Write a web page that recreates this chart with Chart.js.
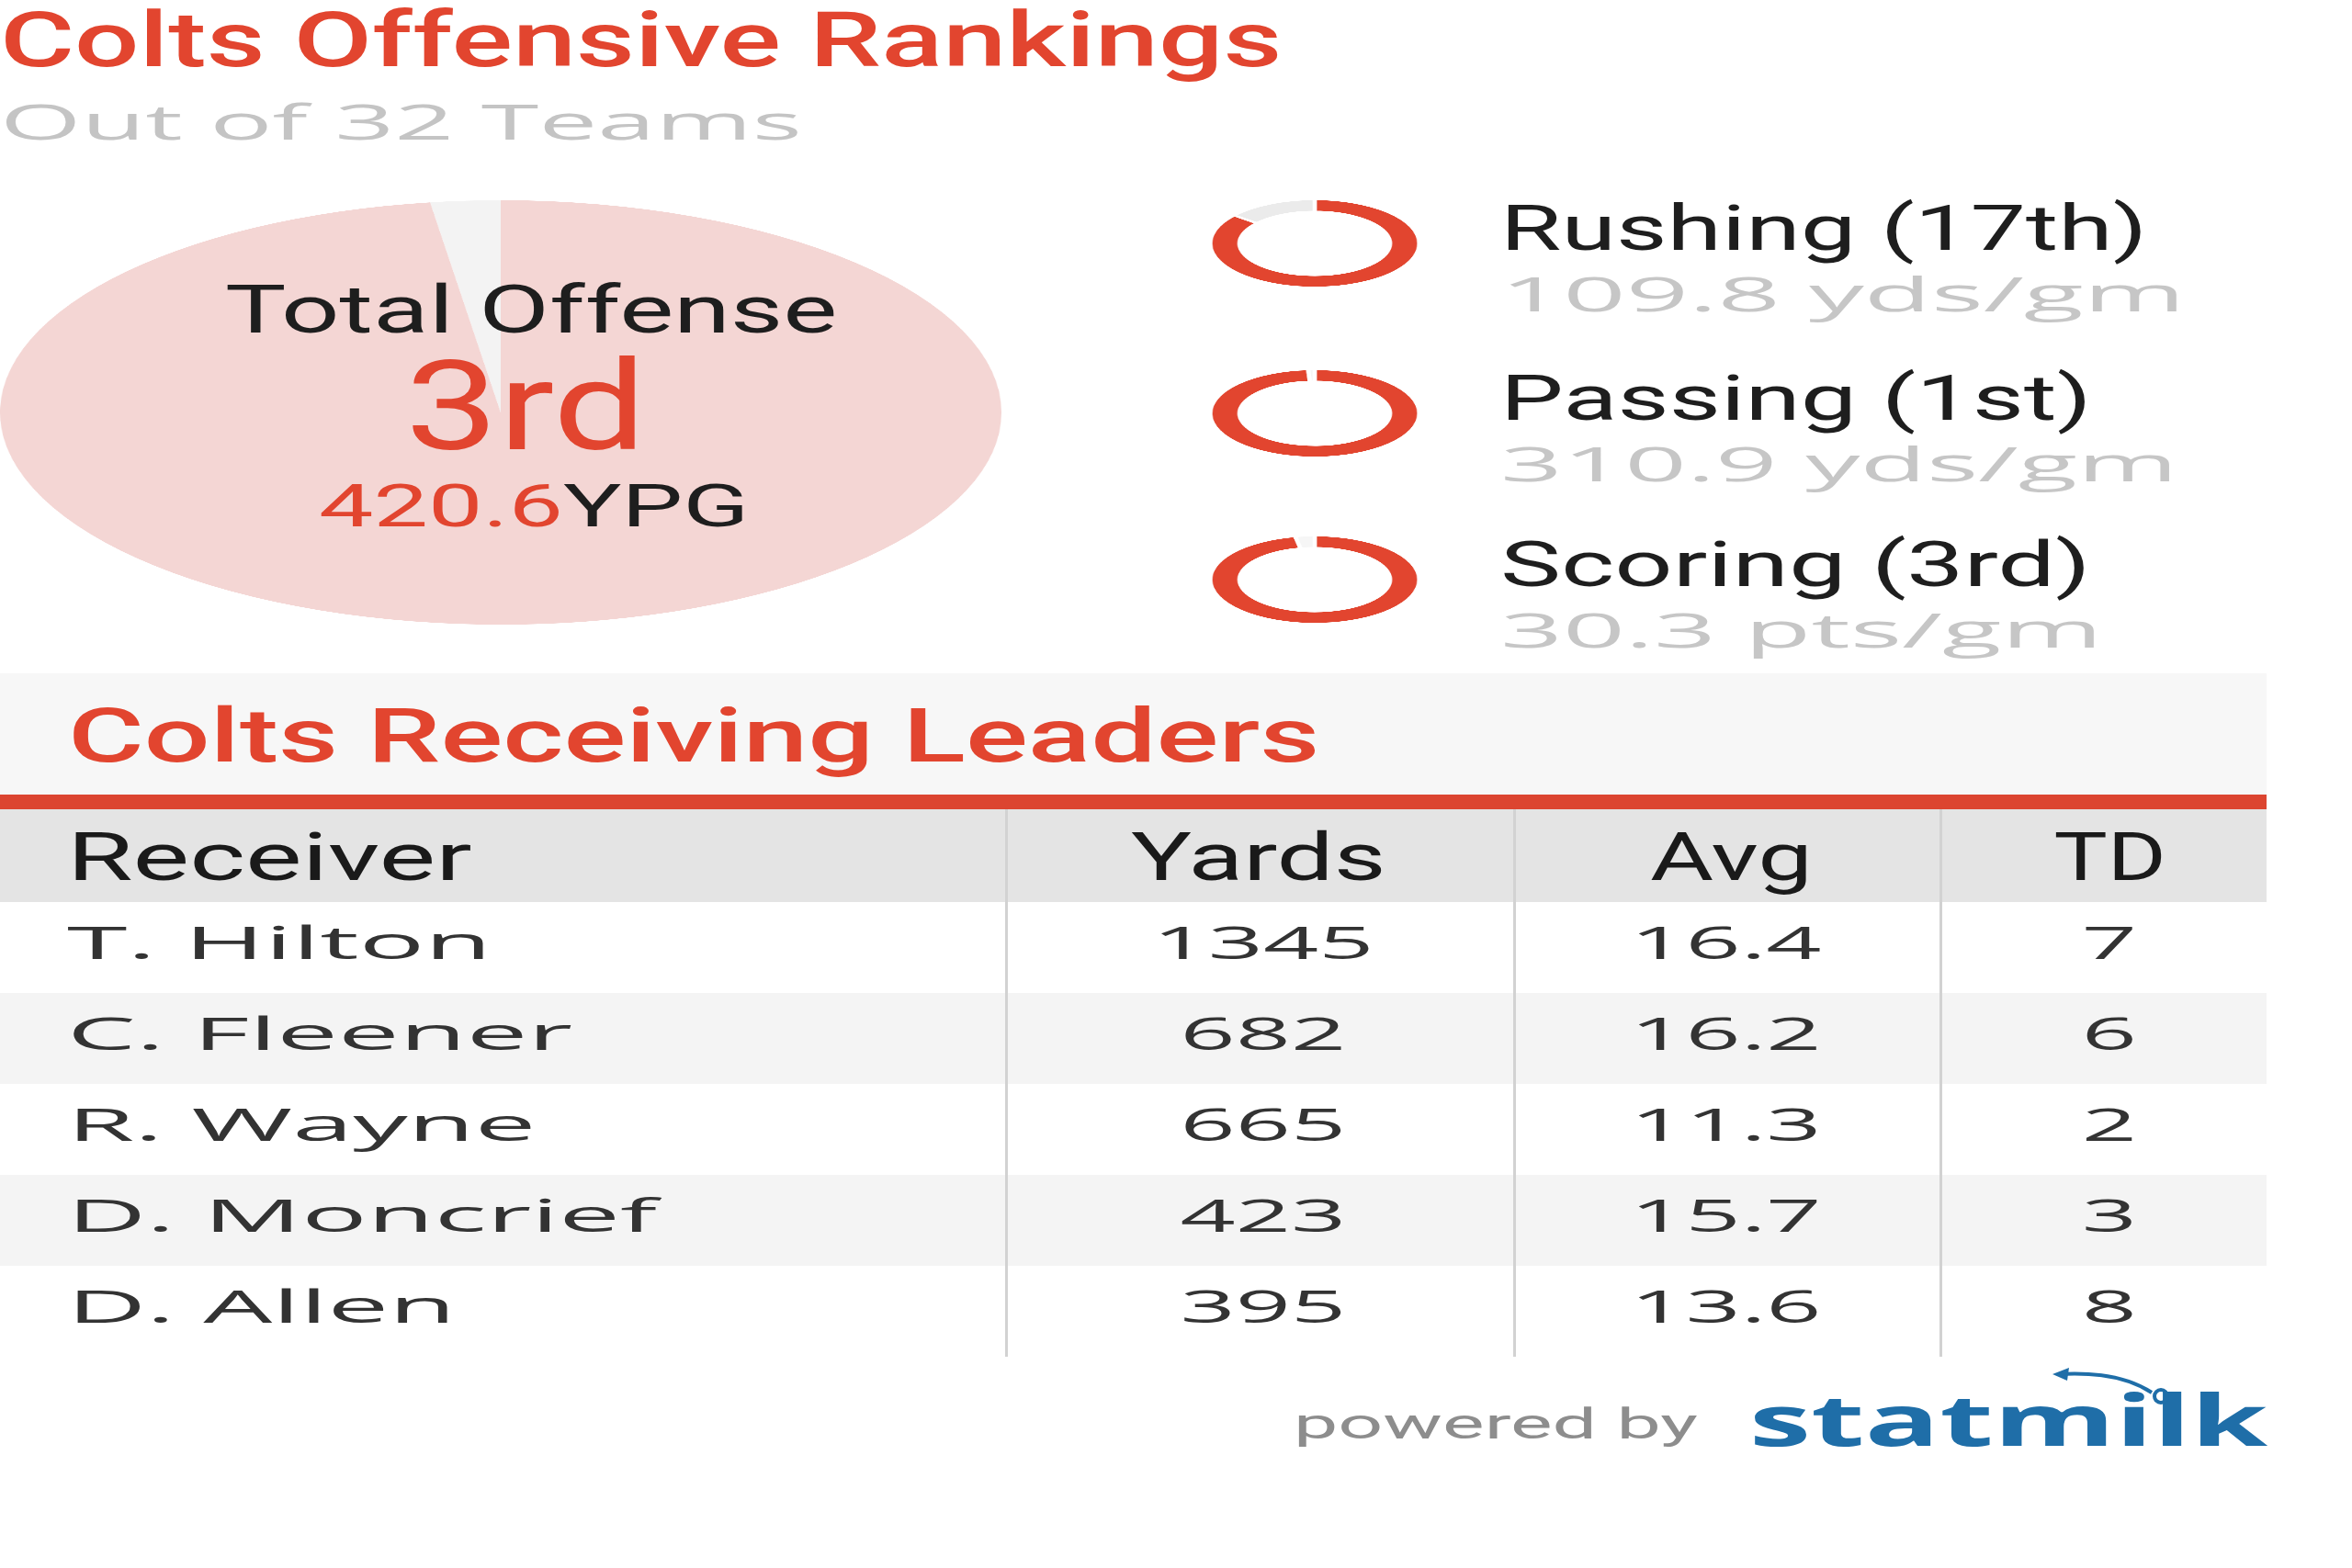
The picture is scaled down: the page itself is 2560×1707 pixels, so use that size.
<!DOCTYPE html>
<html>
<head>
<meta charset="utf-8">
<title>Colts Offensive Rankings</title>
<script src="https://cdn.jsdelivr.net/npm/chart.js@4.4.1/dist/chart.umd.min.js"></script>
<style>
    html, body { margin: 0; padding: 0; background: #fff; }
    #page { position: relative; width: 2560px; height: 1707px; overflow: hidden; background: #fff; }
    .box { position: absolute; }
    .lbl { position: absolute; white-space: nowrap; line-height: 1; }
    .ring { position: absolute; }
</style>
</head>
<body>
<div id="page"></div>
<script>
// Values
const totalTitle = 'Total Offense';
const totalPlace = '3rd';
const totalYpg = '420.6';
const totalShare = [97.75, 2.25];

const rankCategories = ['Rushing', 'Passing', 'Scoring'];
const rankPlaces = ['17th', '1st', '3rd'];
const perGame = ['109.8 yds/gm', '310.9 yds/gm', '30.3 pts/gm'];
const ringRed = [86, 99, 97];
const ringRest = [14, 1, 3];

const columns = ['Receiver', 'Yards', 'Avg', 'TD'];
const receivers = ['T. Hilton', 'C. Fleener', 'R. Wayne', 'D. Moncrief', 'D. Allen'];
const yards = [1345, 682, 665, 423, 395];
const avgs = ['16.4', '16.2', '11.3', '15.7', '13.6'];
const tds = [7, 6, 2, 3, 8];

const RED = '#e2452f';
const ROBOTO = 'Roboto, sans-serif';
const OPEN = '"Open Sans", sans-serif';

const page = document.getElementById('page');
const measureCtx = document.createElement('canvas').getContext('2d');

function capRatio(weight, family) {
    measureCtx.font = `${weight} 200px ${family}`;
    return measureCtx.measureText('H').actualBoundingBoxAscent / 200;
}

function textWidth(text, weight, family, cap) {
    const size = cap / capRatio(weight, family);
    measureCtx.font = `${weight} ${size}px ${family}`;
    return measureCtx.measureText(text).width;
}

function addBox(x, y, w, h, color) {
    const el = document.createElement('div');
    el.className = 'box';
    el.style.cssText = `left:${x}px;top:${y}px;width:${w}px;height:${h}px;background:${color};`;
    page.appendChild(el);
}

// x = left edge (or centre), y = baseline, cap = cap height, w = target width
function addLabel(o) {
    const weight = o.weight || 400;
    const family = o.family || ROBOTO;
    const size = o.cap / capRatio(weight, family);
    const el = document.createElement('div');
    el.className = 'lbl';
    el.style.font = `${weight} ${size}px ${family}`;
    el.style.color = o.color || '#222';
    el.innerHTML = o.html;
    const mark = document.createElement('span');
    mark.style.cssText = 'display:inline-block;width:0;height:0;vertical-align:baseline;';
    el.appendChild(mark);
    page.appendChild(el);

    const natural = el.offsetWidth;
    const sx = o.sx || (o.w / natural);
    el.style.top = (o.y - mark.offsetTop) + 'px';
    if (o.align === 'center') {
        el.style.left = (o.x - natural / 2) + 'px';
        el.style.transformOrigin = '50% 0';
    } else {
        el.style.left = o.x + 'px';
        el.style.transformOrigin = '0 0';
    }
    el.style.transform = `scaleX(${sx})`;
}

// Chart.js draws a round doughnut; the wrapper squashes it into the ellipse of the picture
function addDoughnut(cx, cy, d, sx, values, colors, cutout, borderWidth) {
    const wrap = document.createElement('div');
    wrap.className = 'ring';
    wrap.style.cssText = `left:${cx - d / 2}px;top:${cy - d / 2}px;width:${d}px;height:${d}px;` +
        `transform:scaleX(${sx});transform-origin:50% 50%;`;
    const canvas = document.createElement('canvas');
    wrap.appendChild(canvas);
    page.appendChild(wrap);

    new Chart(canvas, {
        type: 'doughnut',
        data: {
            labels: ['rank', 'rest'],
            datasets: [{
                data: values,
                backgroundColor: colors,
                borderColor: '#ffffff',
                borderWidth: borderWidth,
                hoverOffset: 0
            }]
        },
        options: {
            responsive: true,
            maintainAspectRatio: false,
            devicePixelRatio: 3,
            animation: false,
            events: [],
            cutout: cutout,
            layout: { padding: 0 },
            plugins: {
                legend: { display: false },
                tooltip: { enabled: false }
            }
        }
    });
}

function drawHeader() {
    addLabel({ html: 'Colts Offensive Rankings', x: 0, y: 72, cap: 60, w: 1395, color: RED, weight: 500 });
    addLabel({ html: 'Out of 32 Teams', x: 0, y: 152, cap: 38, w: 873, color: '#c4c4c4', family: OPEN });
}

function drawTotalOffense() {
    addDoughnut(545, 449, 462, 545 / 231, totalShare, ['#f4d6d4', '#f3f3f3'], 0, 0);

    addLabel({ html: totalTitle, x: 245, y: 362, cap: 51, w: 667, color: '#1e1e1e' });
    addLabel({ html: totalPlace, x: 441, y: 489, cap: 97, w: 262, color: RED });
    addLabel({
        html: `<span style="color:${RED}">${totalYpg}</span>YPG`,
        x: 347, y: 573, cap: 46, w: 469, color: '#1e1e1e'
    });
}

function drawRankings() {
    const ringY = [265, 450, 631];
    const nameW = [705, 643, 643];
    const subW = [746, 738, 656];
    const restColors = ['#ebebeb', '#f6f6f6', '#f6f6f6'];

    rankCategories.forEach((cat, i) => {
        addDoughnut(1431, ringY[i], 98, 2.37, [ringRed[i], ringRest[i]], [RED, restColors[i]], '72%', 2);
        addLabel({ html: `${cat} (${rankPlaces[i]})`, x: 1633, y: ringY[i] + 7, cap: 49, w: nameW[i], color: '#1e1e1e' });
        addLabel({ html: perGame[i], x: 1633, y: ringY[i] + 74, cap: 36, w: subW[i], color: '#c6c6c6', family: OPEN });
    });
}

function drawTable() {
    const right = 2467;
    const rowTop = 982;
    const rowH = 99;

    addBox(0, 733, right, 132, '#f7f7f7');
    addBox(0, 865, right, 16, '#dc4530');
    addBox(0, 881, right, rowTop - 881, '#e4e4e4');
    receivers.forEach((_, i) => {
        if (i % 2 === 1) addBox(0, rowTop + i * rowH, right, rowH, '#f4f4f4');
    });
    [1095, 1648, 2112].forEach(x => {
        addBox(x - 1, 881, 3, rowTop + receivers.length * rowH - 881, '#d2d2d2');
    });

    addLabel({ html: 'Colts Receiving Leaders', x: 74, y: 829, cap: 58, w: 1362, color: RED, weight: 500 });

    addLabel({ html: columns[0], x: 73, y: 958, cap: 51, w: 440, color: '#1a1a1a' });
    addLabel({ html: columns[1], x: 1370, y: 958, cap: 51, w: 278, color: '#1a1a1a', align: 'center' });
    addLabel({ html: columns[2], x: 1884, y: 958, cap: 51, w: 177, color: '#1a1a1a', align: 'center' });
    addLabel({ html: columns[3], x: 2296, y: 958, cap: 51, w: 122, color: '#1a1a1a', align: 'center' });

    const cap = 35;
    const nameSx = 642 / textWidth('D. Moncrief', 400, OPEN, cap);
    const numSx = 241 / textWidth('1345', 400, OPEN, cap);
    receivers.forEach((name, i) => {
        const y = rowTop + i * rowH + 62;
        const cell = { y: y, cap: cap, color: '#333', family: OPEN };
        addLabel({ ...cell, html: name, x: 73, sx: nameSx });
        addLabel({ ...cell, html: String(yards[i]), x: 1375, sx: numSx, align: 'center' });
        addLabel({ ...cell, html: avgs[i], x: 1878, sx: numSx, align: 'center' });
        addLabel({ ...cell, html: String(tds[i]), x: 2296, sx: numSx, align: 'center' });
    });
}

function drawFooter() {
    addLabel({ html: 'powered by', x: 1408, y: 1566, cap: 33, w: 440, color: '#8d8d8d' });
    addLabel({ html: 'statmilk', x: 1904, y: 1574, cap: 55, w: 565, color: '#1f6ea8', weight: 700, family: OPEN });

    // little swoosh above the logo
    const ns = 'http://www.w3.org/2000/svg';
    const svg = document.createElementNS(ns, 'svg');
    svg.setAttribute('width', '2560');
    svg.setAttribute('height', '1707');
    svg.style.cssText = 'position:absolute;left:0;top:0;pointer-events:none;';
    svg.innerHTML =
        '<path d="M2240 1496 Q2305 1492 2342 1516" fill="none" stroke="#1f6ea8" stroke-width="4"/>' +
        '<path d="M2234 1496 L2252 1489 L2250 1503 Z" fill="#1f6ea8"/>' +
        '<circle cx="2352" cy="1520" r="7" fill="none" stroke="#1f6ea8" stroke-width="4"/>';
    page.appendChild(svg);
}

document.addEventListener('DOMContentLoaded', () => {
    drawHeader();
    drawTotalOffense();
    drawRankings();
    drawTable();
    drawFooter();
});
</script>
</body>
</html>
